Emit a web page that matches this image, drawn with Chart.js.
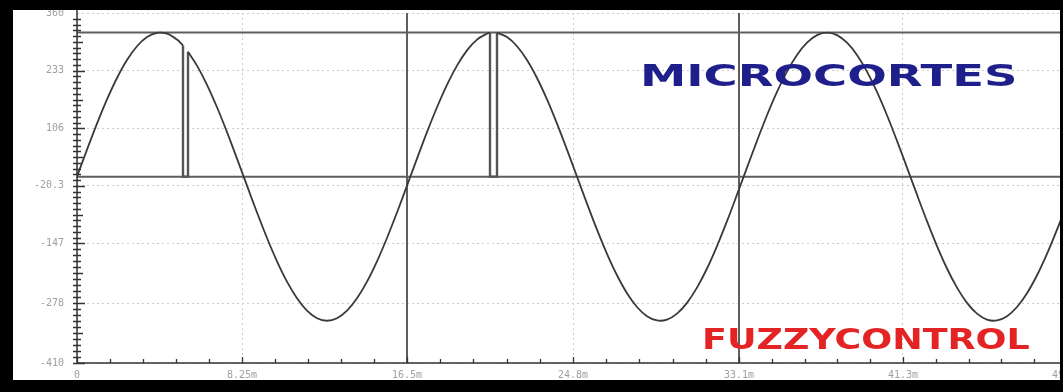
<!DOCTYPE html>
<html>
<head>
<meta charset="utf-8">
<script src="https://cdn.jsdelivr.net/npm/chart.js@4"></script>
<style>
  html, body { margin: 0; padding: 0; width: 1063px; height: 392px; overflow: hidden; background: #000; }
  #panel { position: absolute; left: 13px; top: 10px; width: 1047px; height: 370px; background: #fff; }
  #scope { position: absolute; left: 0; top: -6px; }
  .bar { position: absolute; background: #000; }
  .tag { position: absolute; font-family: "DejaVu Sans", sans-serif; font-weight: bold; white-space: nowrap; transform-origin: 0 0; }
</style>
</head>
<body>
<div id="panel"></div>
<canvas id="scope" width="1090" height="398"></canvas>
<div class="bar" style="left:0;top:0;width:1063px;height:10px"></div>
<div class="bar" style="left:0;top:0;width:13px;height:392px"></div>
<div class="bar" style="left:0;top:380px;width:1063px;height:12px"></div>
<div class="bar" style="left:1060px;top:0;width:3px;height:392px"></div>
<div class="tag" id="t1" style="left:640px;top:60px;font-size:31px;line-height:31px;color:#1f1f8c">MICROCORTES</div>
<div class="tag" id="t2" style="left:702px;top:325px;font-size:29px;line-height:29px;color:#e42424">FUZZYCONTROL</div>
<script>
// time axis (ms) and tick labels
let xTickValues = [0, 8.25, 16.5, 24.8, 33.1, 41.3, 49.5];
let xTickLabels = ['0', '8.25m', '16.5m', '24.8m', '33.1m', '41.3m', '49.5m'];
let yTickValues = [-410, -278, -147, -20.3, 106, 233, 360];
let yTickLabels = ['-410', '-278', '-147', '-20.3', '106', '233', '360'];

// mains voltage trace (null = gap where the micro-cut is)
let timeMs = [0, 0.5, 1, 1.5, 2, 2.5, 3, 3.5, 4, 4.5, 5, 5.3, 5.4, 5.55, 6, 6.5, 7, 7.5, 8, 8.5,
  9, 9.5, 10, 10.5, 11, 11.5, 12, 12.5, 13, 13.5, 14, 14.5, 15, 15.5, 16, 16.5, 17, 17.5, 18, 18.5,
  19, 19.5, 20, 20.5, 20.65, 20.8, 21, 21.5, 22, 22.5, 23, 23.5, 24, 24.5, 25, 25.5, 26, 26.5, 27, 27.5,
  28, 28.5, 29, 29.5, 30, 30.5, 31, 31.5, 32, 32.5, 33, 33.5, 34, 34.5, 35, 35.5, 36, 36.5, 37, 37.5,
  38, 38.5, 39, 39.5, 40, 40.5, 41, 41.5, 42, 42.5, 43, 43.5, 44, 44.5, 45, 45.5, 46, 46.5, 47, 47.5,
  48, 48.5, 49, 49.5];
let volts = [0, 59.4, 116.7, 169.9, 217.0, 256.5, 286.8, 307.0, 316.4, 314.5, 301.5, 288.5, null, 274.8, 244.2, 202.1, 152.7, 98.0, 39.7, -19.9,
  -78.8, -135.0, -186.3, -231.1, -267.6, -294.7, -311.4, -317, -311.4, -294.7, -267.6, -231.1, -186.3, -135.0, -78.8, -19.9, 39.7, 98.0, 152.7, 202.1,
  244.2, 277.8, 301.5, 314.5, 316.8, null, 316.4, 307.0, 286.8, 256.5, 217.0, 169.9, 116.7, 59.4, 0, -59.4, -116.7, -169.9, -217.0, -256.5,
  -286.8, -307.0, -316.4, -314.5, -301.5, -277.8, -244.2, -202.1, -152.7, -98.0, -39.7, 19.9, 78.8, 135.0, 186.3, 231.1, 267.6, 294.7, 311.4, 317,
  311.4, 294.7, 267.6, 231.1, 186.3, 135.0, 78.8, 19.9, -39.7, -98.0, -152.7, -202.1, -244.2, -277.8, -301.5, -314.5, -316.4, -307.0, -286.8, -256.5,
  -217.0, -169.9, -116.7, -59.4];

// the two micro-cuts: drop to zero and back
let cutTimes = [5.3, 5.3, 5.55, 5.55, null, 20.65, 20.65, 21.0, 21.0];
let cutVolts = [288.5, 0, 0, 274.8, null, 316.8, 0, 0, 316.4];

// scope cursors
let cursorLevels = [317, 0];
let cursorTimes = [16.5, 33.1];

let xMin = 0, xMax = 49.5, yMin = -410, yMax = 360;

function pts(xs, ys) {
  return xs.map((x, i) => (x === null || ys[i] === null) ? {x: x === null ? NaN : x, y: null} : {x: x, y: ys[i]});
}

let cursorPts = [];
cursorLevels.forEach(v => { cursorPts.push({x: xMin, y: v}, {x: xMax, y: v}, {x: NaN, y: null}); });
cursorTimes.forEach(t => { cursorPts.push({x: t, y: yMin}, {x: t, y: yMax}, {x: NaN, y: null}); });

const scopeAxes = {
  id: 'scopeAxes',
  afterDatasetsDraw(chart) {
    const {ctx, chartArea: a, scales: {x, y}} = chart;
    ctx.save();
    ctx.strokeStyle = '#333';
    ctx.lineWidth = 1.5;
    ctx.beginPath();
    ctx.moveTo(a.left, a.top - 4);
    ctx.lineTo(a.left, a.bottom);
    ctx.lineTo(a.right + 10, a.bottom);
    ctx.stroke();

    ctx.lineWidth = 1.3;
    ctx.beginPath();
    for (let i = 0; i < yTickValues.length - 1; i++) {
      const p0 = y.getPixelForValue(yTickValues[i]);
      const p1 = y.getPixelForValue(yTickValues[i + 1]);
      for (let j = 0; j < 10; j++) {
        const py = Math.round(p0 + (p1 - p0) * j / 10) + 0.5;
        const len = j === 0 ? 8 : (j === 5 ? 6 : 4);
        ctx.moveTo(a.left - 4, py);
        ctx.lineTo(a.left + len, py);
      }
    }
    for (let i = 0; i < xTickValues.length - 1; i++) {
      const p0 = x.getPixelForValue(xTickValues[i]);
      const p1 = x.getPixelForValue(xTickValues[i + 1]);
      for (let j = 0; j < 5; j++) {
        const px = Math.round(p0 + (p1 - p0) * j / 5) + 0.5;
        const len = j === 0 ? 6 : 4;
        ctx.moveTo(px, a.bottom);
        ctx.lineTo(px, a.bottom - len);
      }
    }
    ctx.stroke();
    ctx.restore();
  }
};

let ctx = document.getElementById('scope').getContext('2d');
let scopeChart = new Chart(ctx, {
  type: 'line',
  data: {
    datasets: [{
      data: pts(timeMs, volts),
      borderColor: '#3a3a3a',
      borderWidth: 1.8,
      pointRadius: 0,
      tension: 0.35,
      spanGaps: false,
      order: 0
    }, {
      data: pts(cutTimes, cutVolts),
      borderColor: '#555',
      borderWidth: 2.4,
      pointRadius: 0,
      tension: 0,
      spanGaps: false,
      order: 1
    }, {
      data: cursorPts,
      borderColor: '#5e5e5e',
      borderWidth: 2,
      pointRadius: 0,
      tension: 0,
      spanGaps: false,
      order: 2
    }]
  },
  options: {
    responsive: false,
    animation: false,
    events: [],
    layout: { padding: { left: 13, top: 6, right: 23, bottom: 12 } },
    plugins: { legend: { display: false }, tooltip: { enabled: false } },
    scales: {
      x: {
        type: 'linear',
        min: xMin,
        max: xMax,
        afterBuildTicks: (scale) => { scale.ticks = xTickValues.map(v => ({value: v})); },
        afterFit: (scale) => { scale.height = 17; },
        ticks: {
          autoSkip: false,
          maxRotation: 0,
          padding: 6,
          color: '#a0a0a0',
          font: { family: 'DejaVu Sans Mono', size: 10 },
          callback: (value, index) => xTickLabels[index]
        },
        grid: { color: '#cccccc', lineWidth: 1, drawTicks: false },
        border: { display: false, dash: [2, 3] }
      },
      y: {
        type: 'linear',
        min: yMin,
        max: yMax,
        afterBuildTicks: (scale) => { scale.ticks = yTickValues.map(v => ({value: v})); },
        afterFit: (scale) => { scale.width = 64; },
        ticks: {
          padding: 13,
          color: '#a0a0a0',
          font: { family: 'DejaVu Sans Mono', size: 10 },
          callback: (value, index) => yTickLabels[index]
        },
        grid: { color: '#cccccc', lineWidth: 1, drawTicks: false },
        border: { display: false, dash: [2, 3] }
      }
    }
  },
  plugins: [scopeAxes]
});

// stretch the two captions to the width they take on the screen
[['t1', 378], ['t2', 328]].forEach(([id, w]) => {
  const el = document.getElementById(id);
  el.style.transform = 'scaleX(' + (w / el.offsetWidth) + ')';
});
</script>
</body>
</html>
